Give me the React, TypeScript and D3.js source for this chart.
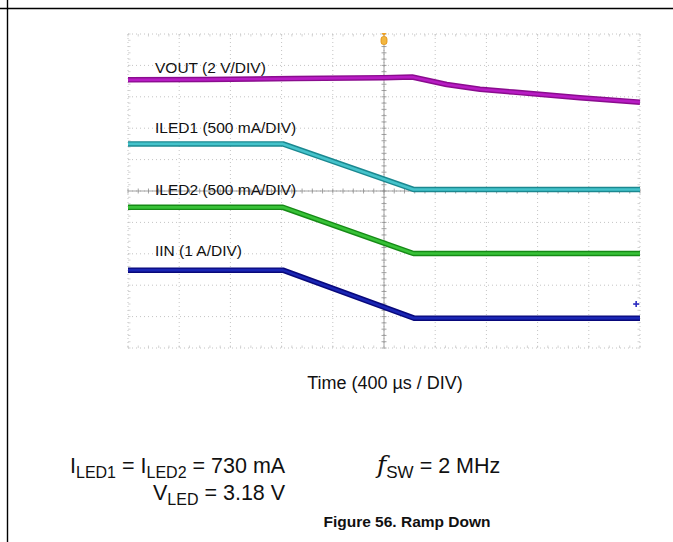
import React from "react";
import * as d3 from "d3";

// time in µs (400 µs / DIV, trigger at 0), values in screen divisions from center
const voutT = [-2000, -1400, -700, 0, 220, 490, 750, 1010, 1530, 2000];
const voutV = [3.54, 3.55, 3.58, 3.61, 3.63, 3.39, 3.24, 3.15, 2.97, 2.83];
const iled1T = [-2000, -790, 230, 2000];
const iled1V = [1.5, 1.5, 0.05, 0.05];
const iled2T = [-2000, -790, 230, 2000];
const iled2V = [-0.52, -0.52, -1.99, -1.99];
const iinT = [-2000, -790, 235, 2000];
const iinV = [-2.52, -2.52, -4.05, -4.05];

const traceLabels = ["VOUT (2 V/DIV)", "ILED1 (500 mA/DIV)", "ILED2 (500 mA/DIV)", "IIN (1 A/DIV)"];
const labelDivs = [3.75, 1.85, -0.13, -2.07];
const xTitle = "Time (400 \u00b5s / DIV)";
const figTitle = "Figure 56. Ramp Down";

const W = 673;
const H = 542;
const FONT = "'Liberation Sans', Arial, Helvetica, sans-serif";

export default function App() {
  const x = d3.scaleLinear().domain([-2000, 2000]).range([128, 640]);
  const y = d3.scaleLinear().domain([-5, 5]).range([348, 34]);

  const xDivs = d3.range(-2000, 2001, 400);
  const yDivs = d3.range(-5, 6, 1);
  const xMinor = d3.range(-2000, 2001, 80);
  const yMinor = d3.range(-5, 5.01, 0.2);

  const line = d3
    .line<[number, number]>()
    .x((d) => x(d[0]))
    .y((d) => y(d[1]));

  const traces = [
    { t: voutT, v: voutV, dark: "#8a0c8e", bright: "#b81cc4" },
    { t: iled1T, v: iled1V, dark: "#1b8890", bright: "#45c3cb" },
    { t: iled2T, v: iled2V, dark: "#168a16", bright: "#38c238" },
    { t: iinT, v: iinV, dark: "#08087a", bright: "#1a26b4" },
  ];

  const cx = x(0);
  const cy = y(0);

  return (
    <svg
      width={W}
      height={H}
      style={{ position: "absolute", left: 0, top: 0, background: "#fff" }}
      fontFamily={FONT}
    >
      {/* page frame */}
      <line x1={0} x2={W} y1={8.5} y2={8.5} stroke="#000" strokeWidth={1.6} />
      <line x1={7.5} x2={7.5} y1={0} y2={H} stroke="#000" strokeWidth={1.4} />

      {/* dotted grid */}
      <g stroke="#c4c4c4" strokeWidth={1} strokeDasharray="1 3">
        {xDivs.map((t) => (
          <line key={"v" + t} x1={x(t)} x2={x(t)} y1={y(5)} y2={y(-5)} />
        ))}
        {yDivs.map((v) => (
          <line key={"h" + v} x1={x(-2000)} x2={x(2000)} y1={y(v)} y2={y(v)} />
        ))}
      </g>

      {/* center axes with minor ticks */}
      <g stroke="#8c8c8c" strokeWidth={0.8}>
        <line x1={x(-2000)} x2={x(2000)} y1={cy} y2={cy} />
        <line x1={cx} x2={cx} y1={y(5)} y2={y(-5)} />
        {xMinor.map((t) => (
          <line key={"mx" + t} x1={x(t)} x2={x(t)} y1={cy - 2.5} y2={cy + 2.5} />
        ))}
        {yMinor.map((v) => (
          <line key={"my" + v} x1={cx - 2.5} x2={cx + 2.5} y1={y(v)} y2={y(v)} />
        ))}
      </g>
      {/* edge minor ticks */}
      <g stroke="#c8c8c8" strokeWidth={0.8}>
        {yMinor.map((v) => (
          <line key={"el" + v} x1={x(-2000)} x2={x(-2000) + 2.5} y1={y(v)} y2={y(v)} />
        ))}
        {yMinor.map((v) => (
          <line key={"er" + v} x1={x(2000) - 2.5} x2={x(2000)} y1={y(v)} y2={y(v)} />
        ))}
        {xMinor.map((t) => (
          <line key={"et" + t} x1={x(t)} x2={x(t)} y1={y(5)} y2={y(5) + 2.5} />
        ))}
        {xMinor.map((t) => (
          <line key={"eb" + t} x1={x(t)} x2={x(t)} y1={y(-5) - 2.5} y2={y(-5)} />
        ))}
      </g>

      {/* trigger marker */}
      <g>
        <path d={`M${cx - 2.5},${y(5) - 1} L${cx + 2.5},${y(5) - 1} L${cx},${y(5) + 2} Z`} fill="#f0a020" />
        <rect x={cx - 3} y={y(5) + 2.5} width={6} height={8} rx={2.5} fill="#f2b640" stroke="#e09010" strokeWidth={0.8} />
      </g>

      {/* trace labels */}
      <g fontSize={15.5} fill="#111">
        {traceLabels.map((s, i) => (
          <text key={s} x={155} y={y(labelDivs[i])}>
            {s}
          </text>
        ))}
      </g>

      {/* traces */}
      {traces.map((tr, i) => {
        const pts = tr.t.map((t, j) => [t, tr.v[j]] as [number, number]);
        const d = line(pts) || "";
        return (
          <g key={i} fill="none" strokeLinejoin="round">
            <path d={d} stroke={tr.dark} strokeWidth={5.5} />
            <path d={d} stroke={tr.bright} strokeWidth={2.6} />
          </g>
        );
      })}

      {/* reference marker */}
      <g stroke="#2a2ac0" strokeWidth={1.6}>
        <line x1={x(1970) - 3} x2={x(1970) + 3} y1={y(-3.6)} y2={y(-3.6)} />
        <line x1={x(1970)} x2={x(1970)} y1={y(-3.6) - 3} y2={y(-3.6) + 3} />
      </g>

      {/* axis title */}
      <text x={385} y={389} textAnchor="middle" fontSize={18} fill="#111">
        {xTitle}
      </text>

      {/* conditions */}
      <g fontSize={21.5} fill="#111">
        <text x={70} y={473}>
          I<tspan fontSize={16} dy={5}>LED1</tspan>
          <tspan dy={-5}> = I</tspan>
          <tspan fontSize={16} dy={5}>LED2</tspan>
          <tspan dy={-5}> = 730 mA</tspan>
        </text>
        <text x={153} y={500}>
          V<tspan fontSize={16} dy={5}>LED</tspan>
          <tspan dy={-5}> = 3.18 V</tspan>
        </text>
        <text x={377} y={473}>
          <tspan fontStyle="italic" fontSize={25} fontFamily="'DejaVu Serif', serif">f</tspan>
          <tspan fontSize={17} dy={5}>SW</tspan>
          <tspan dy={-5}> = 2 MHz</tspan>
        </text>
      </g>

      {/* figure title */}
      <text x={407} y={527} textAnchor="middle" fontSize={15.5} fontWeight="bold" fill="#111">
        {figTitle}
      </text>
    </svg>
  );
}
